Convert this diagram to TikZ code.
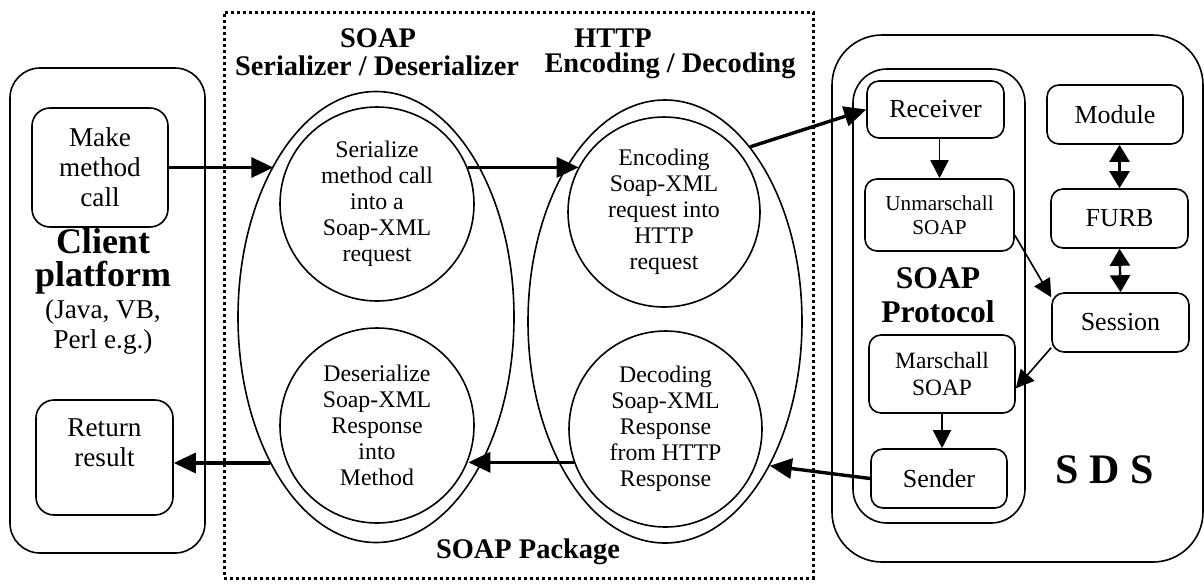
\documentclass[tikz,border=0pt]{standalone}
\usepackage{fontspec}
\setmainfont{Liberation Serif}
\usetikzlibrary{arrows.meta,shapes}

\begin{document}
\begin{tikzpicture}[x=0.5pt,y=-0.5pt,semithick]
        \tikzstyle{rbox}=[draw, rounded corners=6pt, line width=0.8pt, align=center, inner sep=0pt, font=\fontsize{13}{15}\selectfont]
        \tikzstyle{shell}=[draw, ellipse, line width=0.8pt, inner sep=0pt]
        \tikzstyle{bubble}=[shell, align=center, font=\fontsize{11.9}{13}\selectfont]
        \tikzstyle{ttl}=[font=\bfseries\fontsize{14.2}{15}\selectfont, align=center]
        \tikzstyle{flowarrow}=[-{Triangle[length=11pt,width=10pt]}, line width=1.7pt]
        \tikzstyle{thinarrow}=[-{Triangle[length=9pt,width=9pt]}, line width=0.8pt]
        \tikzstyle{twoway}=[{Triangle[length=8.5pt,width=10pt]}-{Triangle[length=8.5pt,width=10pt]}, line width=1.2pt]

        \useasboundingbox (0,0) rectangle (1204,585);

        % client platform
        \node[rbox, rounded corners=15pt, minimum width=97.5pt, minimum height=242.5pt] (client) at (107.5,310.5) {};
        \node[rbox, rounded corners=9pt, minimum width=68pt, minimum height=59.5pt, font=\fontsize{13.6}{15}\selectfont] (make) at (100,167.5) {Make\\method\\call};
        \node[rbox, rounded corners=9pt, minimum width=68.5pt, minimum height=57.5pt, font=\fontsize{13.6}{15}\selectfont] (ret) at (104.5,457.5) {Return\\result\\\mbox{}};
        \node[font=\bfseries\fontsize{18}{16.5}\selectfont, align=center] (cname) at (103,261.5) {Client\\platform};
        \node[font=\fontsize{13.6}{15}\selectfont, align=center] (clang) at (103,327) {(Java, VB,\\Perl e.g.)};

        % soap package
        \node[draw, line width=1.5pt, dash pattern=on 1.5pt off 1.5pt, minimum width=294.5pt, minimum height=283pt] (pkg) at (518.5,295) {};
        \node[ttl] (soapttl) at (378,38) {SOAP};
        \node[ttl] (serttl)  at (377,66) {Serializer / Deserializer};
        \node[ttl] (httpttl) at (613,38) {HTTP};
        \node[ttl] (encttl)  at (670,66) {Encoding / Decoding};
        \node[ttl] (pkgttl)  at (528,552) {SOAP Package};

        \node[shell, minimum width=138pt, minimum height=225.5pt] (serell) at (376,317) {};
        \node[shell, minimum width=137pt, minimum height=221.5pt] (codell) at (665,321.5) {};

        \node[bubble, minimum width=97pt, minimum height=97pt]   (ser)   at (377,204)   {Serialize\\method call\\into a\\Soap-XML\\request};
        \node[bubble, minimum width=97pt, minimum height=97.5pt] (deser) at (377,425.5) {Deserialize\\Soap-XML\\Response\\into\\Method};
        \node[bubble, minimum width=96pt, minimum height=95pt]   (enc)   at (664,212)   {Encoding\\Soap-XML\\request into\\HTTP\\request};
        \node[bubble, minimum width=96.5pt, minimum height=98pt] (dec)   at (665.5,429) {Decoding\\Soap-XML\\Response\\from HTTP\\Response};

        % SDS
        \node[rbox, rounded corners=25pt, minimum width=185.5pt, minimum height=263.5pt] (sds) at (1017.5,298.5) {};
        \node[rbox, rounded corners=17pt, minimum width=86pt, minimum height=227pt] (proto) at (939,296) {};
        \node[rbox, minimum width=68.5pt, minimum height=28.5pt] (recv) at (935.5,109.5) {Receiver};
        \node[rbox, minimum width=74.5pt, minimum height=36pt, font=\fontsize{10.6}{12}\selectfont] (unm) at (939.5,215) {Unmarschall\\SOAP};
        \node[font=\bfseries\fontsize{15.8}{17}\selectfont, align=center] (protottl) at (938,295) {SOAP\\Protocol};
        \node[rbox, minimum width=73pt, minimum height=39pt, font=\fontsize{11.7}{13.5}\selectfont] (mar) at (942,374) {Marschall\\SOAP};
        \node[rbox, minimum width=68pt, minimum height=29.5pt] (snd) at (939,478.5) {Sender};
        \node[rbox, minimum width=68pt, minimum height=29.5pt] (mod) at (1115,114.5) {Module};
        \node[rbox, minimum width=68.5pt, minimum height=29.5pt] (furb) at (1119.5,218.5) {FURB};
        \node[rbox, minimum width=68.5pt, minimum height=29.5pt] (sess) at (1120.5,322.5) {Session};
        \node[font=\bfseries\fontsize{21}{24}\selectfont] (sdsttl) at (1105,470) {S D S};

        % request / response flow
        \draw[flowarrow] (make.east) -- (make.east -| serell.124);
        \draw[flowarrow] (ser.22) -- (ser.22 -| enc.152);
        \draw[flowarrow] (codell.64) -- (recv.west);
        \draw[flowarrow] (snd.west) -- (codell.-54);
        \draw[flowarrow] (dec.200) -- (dec.200 -| deser.-21);
        \draw[flowarrow] (serell.234) -- (serell.234 -| ret.east);

        % inside SDS
        \draw[thinarrow] (unm.north |- recv.south) -- (unm.north);
        \draw[thinarrow] (unm.-15) -- (sess.160);
        \draw[thinarrow] (sess.200) -- (mar.-11);
        \draw[thinarrow] (mar.south) -- (mar.south |- snd.north);
        \draw[twoway] (furb.north |- mod.south) -- (furb.north);
        \draw[twoway] (furb.south) -- (sess.north);
\end{tikzpicture}
\end{document}
